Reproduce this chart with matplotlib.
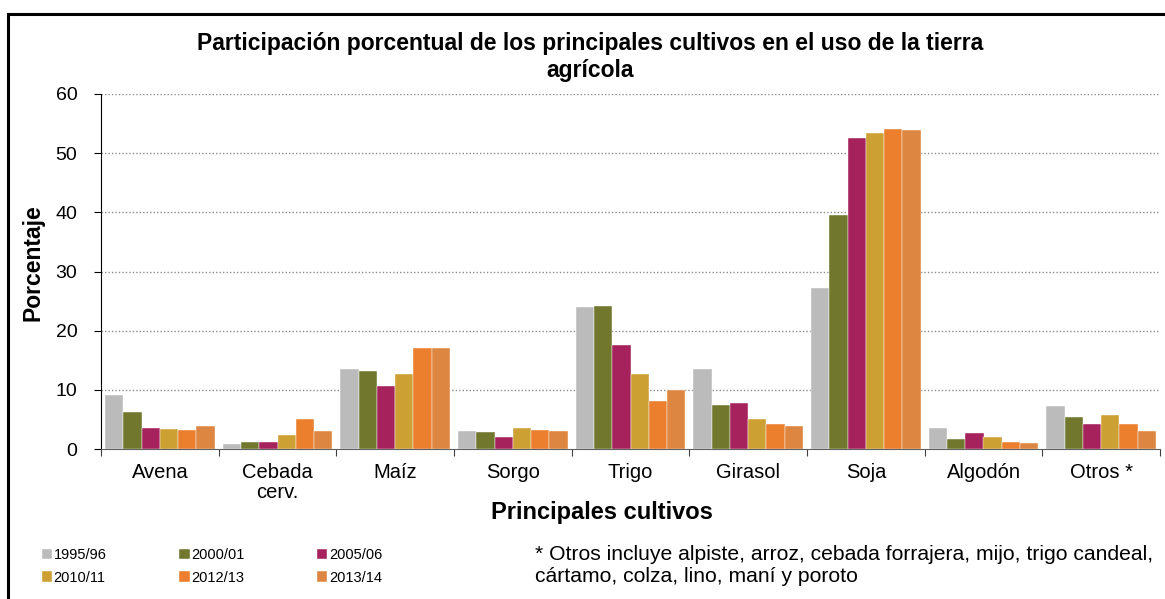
import matplotlib
matplotlib.use("Agg")
import matplotlib.pyplot as plt
import numpy as np
from matplotlib.patches import Rectangle

plt.rcParams['font.family'] = ['Liberation Sans', 'DejaVu Sans']

categories = ["Avena", "Cebada\ncerv.", "Maíz", "Sorgo", "Trigo", "Girasol", "Soja", "Algodón", "Otros *"]
series_names = ["1995/96", "2000/01", "2005/06", "2010/11", "2012/13", "2013/14"]
v1995 = [9.1, 0.85, 13.5, 3.0, 24.0, 13.6, 27.2, 3.6, 7.2]
v2000 = [6.3, 1.1, 13.1, 2.8, 24.1, 7.5, 39.6, 1.7, 5.4]
v2005 = [3.6, 1.1, 10.7, 2.1, 17.5, 7.8, 52.5, 2.65, 4.3]
v2010 = [3.4, 2.4, 12.7, 3.6, 12.6, 5.1, 53.4, 2.1, 5.7]
v2012 = [3.2, 5.1, 17.1, 3.2, 8.1, 4.2, 54.1, 1.1, 4.2]
v2013 = [3.95, 3.0, 17.0, 3.0, 10.0, 3.95, 53.9, 0.95, 3.0]
colors = ["#BABBBA", "#71782E", "#A6225C", "#CCA032", "#EC7F2D", "#DD8641"]
yticks = [0, 10, 20, 30, 40, 50, 60]

series = [v1995, v2000, v2005, v2010, v2012, v2013]

fig = plt.figure(figsize=(11.65, 5.99), dpi=100)
ax = fig.add_axes([101/1165, 1-449/599, (1160-101)/1165, (449-94)/599])

n = len(series)
bw = 0.155
x = np.arange(len(categories)) + 0.5
handles = []
for i, (vals, c, name) in enumerate(zip(series, colors, series_names)):
    h = ax.bar(x + (i - (n-1)/2)*bw, vals, width=bw, color=c, label=name,
               edgecolor='white', linewidth=0.3, zorder=3)
    handles.append(h)

ax.set_xlim(0, len(categories))
ax.set_ylim(0, 60)
ax.set_yticks(yticks)
ax.set_yticklabels([str(t) for t in yticks], fontsize=14)
ax.set_xticks(np.arange(len(categories)+1))
ax.set_xticklabels([])
ax.set_xticks(x, minor=True)
ax.set_xticklabels(categories, minor=True, fontsize=14.5, linespacing=1.05)
ax.tick_params(axis='x', which='minor', length=0, pad=10)
ax.tick_params(axis='x', which='major', length=5, direction='out', color='#404040')
ax.tick_params(axis='y', length=5, direction='out', pad=12)

for yy in yticks[1:]:
    ax.axhline(yy, color='#8c8c8c', linestyle=(0, (1, 1.5)), linewidth=1.0, zorder=1)

for s in ['top', 'right']:
    ax.spines[s].set_visible(False)
ax.spines['left'].set_color('black')
ax.spines['bottom'].set_color('#606060')
ax.spines['bottom'].set_zorder(4)

ax.set_ylabel("Porcentaje", fontsize=16.5, fontweight='bold')
ax.yaxis.set_label_coords((33-101)/(1160-101), (449-263)/(449-94))
ax.set_xlabel("Principales cultivos", fontsize=17, fontweight='bold')
ax.xaxis.set_label_coords((602-101)/(1160-101), -(512-449)/(449-94))
ax.xaxis.label.set_va('center')
ax.yaxis.label.set_va('center')

fig.text(590/1165, 1-57/599, "Participación porcentual de los principales cultivos en el uso de la tierra\nagrícola",
         ha='center', va='center', fontsize=16.5, fontweight='bold', linespacing=1.2)

order = [0, 3, 1, 4, 2, 5]
leg = fig.legend([handles[i] for i in order], [series_names[i] for i in order], ncol=3,
                 loc='upper left', bbox_to_anchor=(36/1165, 1-542/599), frameon=False,
                 fontsize=10.5, handlelength=0.7, handleheight=0.7, handletextpad=0.1,
                 columnspacing=5.0, labelspacing=0.6, borderaxespad=0)

fig.text(535/1165, 1-565/599, "* Otros incluye alpiste, arroz, cebada forrajera, mijo, trigo candeal,\ncártamo, colza, lino, maní y poroto",
         ha='left', va='center', fontsize=15.2, linespacing=1.2)

fig.patches.append(Rectangle((8/1165, -0.1), 1.2, 1-14/599+0.1, transform=fig.transFigure,
                             fill=False, edgecolor='black', linewidth=2.2, figure=fig))

fig.savefig("out.png", dpi=100)
